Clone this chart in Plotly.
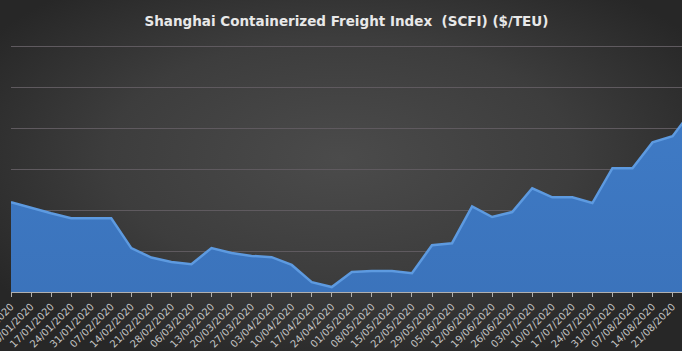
import base64
import plotly.graph_objects as go

dates = ["03/01/2020", "10/01/2020", "17/01/2020", "24/01/2020", "31/01/2020",
         "07/02/2020", "14/02/2020", "21/02/2020", "28/02/2020",
         "06/03/2020", "13/03/2020", "20/03/2020", "27/03/2020",
         "03/04/2020", "10/04/2020", "17/04/2020", "24/04/2020",
         "01/05/2020", "08/05/2020", "15/05/2020", "22/05/2020", "29/05/2020",
         "05/06/2020", "12/06/2020", "19/06/2020", "26/06/2020",
         "03/07/2020", "10/07/2020", "17/07/2020", "24/07/2020", "31/07/2020",
         "07/08/2020", "14/08/2020", "21/08/2020", "28/08/2020", "04/09/2020"]
scfi = [1019, 1005, 992, 980, 980,
        980, 907, 884, 873,
        868, 907, 895, 888,
        885, 866, 824, 812,
        849, 851, 851, 846, 914,
        919, 1009, 983, 995,
        1053, 1031, 1031, 1017, 1102,
        1102, 1165, 1180, 1245, 1262]

W, H = 682, 351
ML, MR, MT, MB = 11, 0, 44, 59

svg = (f'<svg xmlns="http://www.w3.org/2000/svg" width="{W}" height="{H}">'
       '<defs><radialGradient id="g" cx="50%" cy="45%" r="62%">'
       '<stop offset="0%" stop-color="#4b4b4b"/>'
       '<stop offset="55%" stop-color="#3d3d3d"/>'
       '<stop offset="100%" stop-color="#272727"/>'
       '</radialGradient></defs>'
       f'<rect width="{W}" height="{H}" fill="url(#g)"/></svg>')
bg_src = "data:image/svg+xml;base64," + base64.b64encode(svg.encode()).decode()

pw = W - ML - MR
ph = H - MT - MB

fig = go.Figure()
fig.add_trace(go.Scatter(
    x=dates, y=scfi, mode="lines",
    line=dict(color="#5d9ae0", width=2.5),
    fill="tozeroy",
    fillgradient=dict(type="vertical",
                      colorscale=[[0, "#3466aa"], [1, "#3f7bc6"]]),
    hoverinfo="skip", showlegend=False,
))

fig.update_layout(
    width=W, height=H,
    margin=dict(l=ML, r=MR, t=MT, b=MB, pad=0, autoexpand=False),
    paper_bgcolor="#333333",
    plot_bgcolor="rgba(0,0,0,0)",
    title=dict(text="Shanghai Containerized Freight Index  (SCFI) ($/TEU)",
               x=0.5, xref="paper", xanchor="center",
               y=1 - 21 / H, yref="container", yanchor="middle",
               font=dict(family="DejaVu Sans", size=13.5, color="#e8e8e8", weight="bold")),
    images=[dict(source=bg_src, xref="paper", yref="paper",
                 x=-ML / pw, y=1 + MT / ph, sizex=W / pw, sizey=H / ph,
                 xanchor="left", yanchor="top", sizing="stretch", layer="below")],
    xaxis=dict(type="category", range=[0, 33.47], automargin=False,
               showgrid=False, showline=True, linecolor="#b0b0b0", linewidth=1,
               ticks="outside", ticklen=4, tickcolor="#b0b0b0",
               tickangle=-45,
               tickfont=dict(family="DejaVu Sans", size=10, color="#c4c4c4"),
               zeroline=False),
    yaxis=dict(range=[800, 1405], dtick=100, tick0=800, automargin=False,
               showgrid=True, gridcolor="#5f5a5f", gridwidth=1,
               showticklabels=False, ticks="", showline=False, zeroline=False),
)

fig.write_html("out.html")
